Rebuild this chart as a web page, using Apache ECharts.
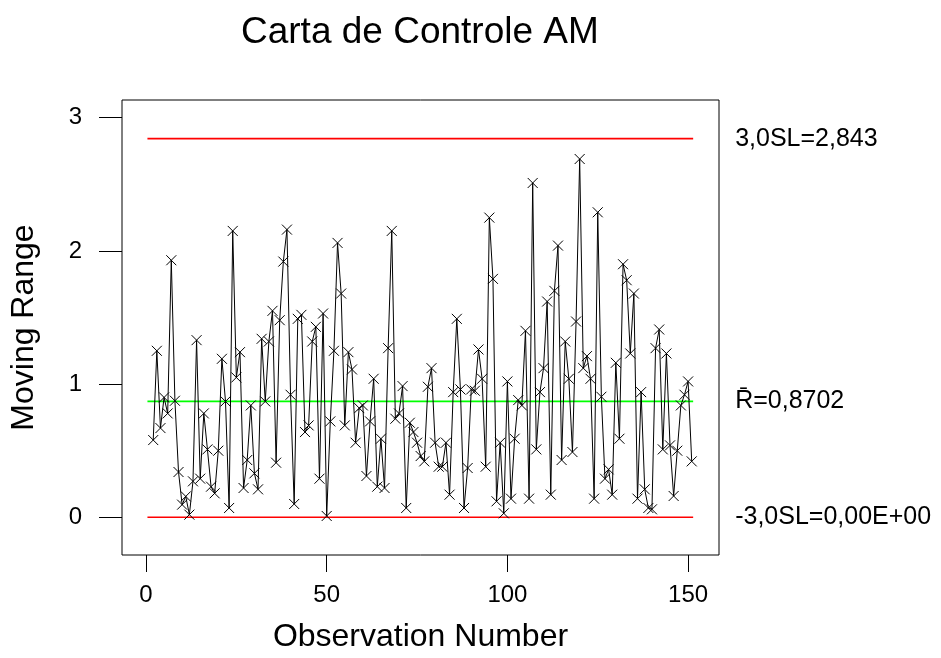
<!DOCTYPE html>
<html>
<head>
<meta charset="utf-8">
<script src="https://cdn.jsdelivr.net/npm/echarts@6/dist/echarts.min.js"></script>
<style>
  html, body { margin: 0; padding: 0; background: #fff; }
  #chart { width: 941px; height: 658px; }
</style>
</head>
<body>
<div id="chart"></div>
<script>
// moving ranges, observations 2..151
const movingRange = [
  0.58, 1.25, 0.67, 0.90, 0.78, 1.93, 0.875, 0.34, 0.095, 0.157, 0.02, 0.27, 1.33, 0.29, 0.78,
  0.51, 0.23, 0.18, 0.50, 1.19, 0.87, 0.07, 2.15, 1.05, 1.24, 0.22, 0.43,
  0.84, 0.33, 0.21, 1.34, 0.87, 1.32, 1.55, 0.41, 1.48, 1.92, 2.16, 0.92, 0.10, 1.49,
  1.52, 0.64, 0.69, 1.32, 1.43, 0.29, 1.53, 0.01, 0.72, 1.25, 2.06, 1.68, 0.69, 1.24,
  1.11, 0.56, 0.82, 0.84, 0.31, 0.72, 1.04, 0.23, 0.59, 0.22, 1.27, 2.15, 0.74, 0.78,
  0.985, 0.07, 0.71, 0.64, 0.56, 0.46, 0.42, 0.98, 1.12, 0.56, 0.38, 0.38, 0.56, 0.17,
  0.94, 1.49, 0.96, 0.07, 0.37, 0.96, 0.95, 1.26, 1.04, 0.38, 2.25, 1.79, 0.12, 0.56,
  0.03, 1.02, 0.14, 0.59, 0.88, 0.84, 1.40, 0.14, 2.51, 0.51, 0.94, 1.12, 1.62, 0.17, 1.70,
  2.04, 0.43, 1.32, 1.04, 0.49, 1.47, 2.69, 1.12, 1.21, 1.04, 0.14, 2.29, 0.905, 0.29,
  0.36, 0.17, 1.16, 0.59, 1.90, 1.78, 1.23, 1.68, 0.14, 0.94, 0.21, 0.07,
  0.06, 1.27, 1.41, 0.51, 1.23, 0.54, 0.16, 0.50, 0.84, 0.92, 1.02, 0.42
]
const firstObs = 2
const limitSpan = [0.4, 151.4]
const ucl = 2.843
const rBar = 0.8702
const lcl = 0
const xTicks = [0, 50, 100, 150]
const yTicks = [0, 1, 2, 3]

const points = movingRange.map((v, i) => [firstObs + i, v])
const font = 'Liberation Sans, Arial, sans-serif'

const chart = echarts.init(document.getElementById('chart'))

// horizontal control line with its label past the right end
const limitSeries = (y, color, text) => ({
  type: 'line',
  data: limitSpan.map(x => [x, y]),
  symbol: 'none',
  silent: true,
  lineStyle: { color, width: 1.6 },
  endLabel: {
    show: true,
    formatter: text,
    distance: 42,
    fontFamily: font,
    fontSize: 25,
    color: '#000'
  },
  z: 2
})

chart.setOption({
  animation: false,
  title: {
    text: 'Carta de Controle AM',
    left: 236,
    top: 9,
    textStyle: { fontFamily: font, fontSize: 37, fontWeight: 'normal', color: '#000' }
  },
  grid: {
    left: 122, top: 100, width: 597, height: 455,
    show: true, borderColor: '#000', borderWidth: 1
  },
  xAxis: {
    type: 'value',
    min: -6.64, max: 158.55,
    name: 'Observation Number',
    nameLocation: 'middle',
    nameGap: 66,
    nameTextStyle: { fontFamily: font, fontSize: 32, color: '#000' },
    axisLine: { show: false, onZero: false },
    axisTick: { show: true, customValues: xTicks, length: 17, lineStyle: { color: '#000' } },
    axisLabel: { customValues: xTicks, margin: 28, fontFamily: font, fontSize: 24, color: '#000' },
    splitLine: { show: false }
  },
  yAxis: {
    type: 'value',
    min: -0.283, max: 3.133,
    name: 'Moving Range',
    nameLocation: 'middle',
    nameGap: 82,
    nameTextStyle: { fontFamily: font, fontSize: 32, color: '#000' },
    axisLine: { show: false, onZero: false },
    axisTick: { show: true, customValues: yTicks, length: 23, lineStyle: { color: '#000' } },
    axisLabel: { customValues: yTicks, margin: 40, fontFamily: font, fontSize: 24, color: '#000' },
    splitLine: { show: false }
  },
  series: [
    limitSeries(ucl, '#ff0000', '3,0SL=2,843'),
    limitSeries(rBar, '#00ff00', 'R\u0304=0,8702'),
    limitSeries(lcl, '#ff0000', '-3,0SL=0,00E+00'),
    {
      type: 'line',
      data: points,
      symbol: 'path://M0,0L10,10M10,0L0,10',
      symbolSize: 10,
      itemStyle: { color: '#000', borderColor: '#000', borderWidth: 1 },
      lineStyle: { color: '#000', width: 1 },
      z: 3
    }
  ]
})
</script>
</body>
</html>
